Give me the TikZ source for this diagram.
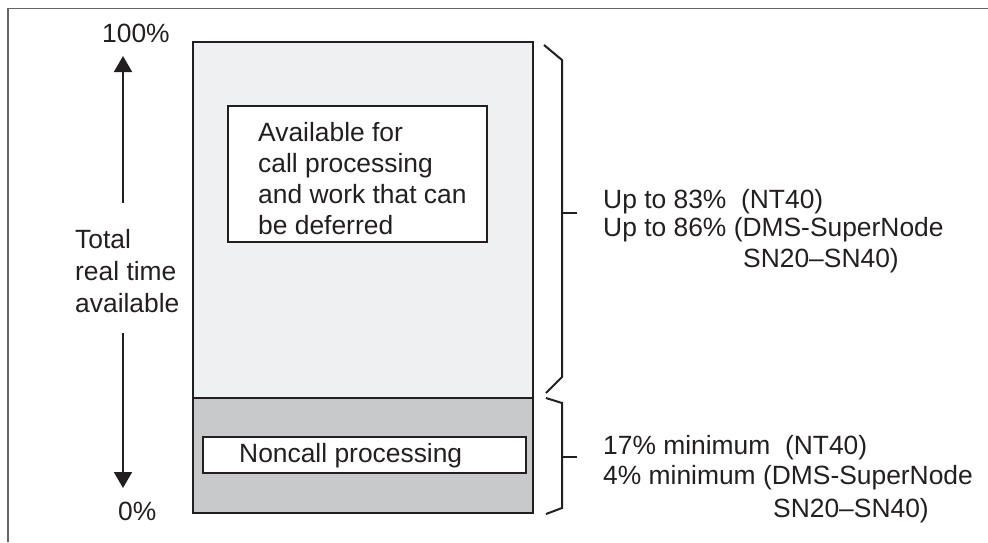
\documentclass[tikz,border=0pt]{standalone}
\usepackage{fontspec}
\setmainfont{Liberation Sans}
\usetikzlibrary{arrows.meta}
\definecolor{upperfill}{HTML}{EFF0F2}
\definecolor{lowerfill}{HTML}{C8C9CB}
\definecolor{ink}{HTML}{231F20}
\begin{document}
\begin{tikzpicture}[x=1pt,y=-1pt,
  lbl/.style={anchor=base west,inner sep=0pt,font=\fontsize{26.4}{31}\selectfont,text=ink},
  boxline/.style={draw=ink,line width=2pt,anchor=north west,inner sep=0pt,outer sep=0pt},
  bracket/.style={draw=ink,line width=2pt},
  arr/.style={draw=ink,line width=2pt,-{Triangle[width=18pt,length=16pt]}}]
\useasboundingbox (0,0) rectangle (988,542);
% frame
\draw[gray!80!black,line width=1.5pt] (8,542) -- (8,8.5) -- (988,8.5);
% main column
\node[boxline,fill=upperfill,minimum width=340pt,minimum height=356pt] (upper) at (193,42) {};
\node[boxline,fill=lowerfill,minimum width=340pt,minimum height=115pt] (lower) at (193,398) {};
\node[boxline,fill=white,minimum width=259pt,minimum height=136pt] (availbox) at (228,106) {};
\node[boxline,fill=white,minimum width=323pt,minimum height=36pt] (noncallbox) at (203,437) {};
% texts inside boxes
\node[lbl] (av1) at (258,141) {Available for};
\node[lbl] (av2) at (258,172) {call processing};
\node[lbl] (av3) at (258,203) {and work that can};
\node[lbl] (av4) at (258,234) {be deferred};
\node[lbl] (nc) at (239,462) {Noncall processing};
% left scale
\node[lbl] (p100) at (102,42) {100\%};
\node[lbl] (p0) at (118,520) {0\%};
\node[lbl] (t1) at (75,248) {Total};
\node[lbl] (t2) at (75,280) {real time};
\node[lbl] (t3) at (75,312) {available};
\coordinate (uptail) at (123,203);
\coordinate (uptip) at (123,56);
\coordinate (dntail) at (123,333);
\coordinate (dntip) at (123,488);
\draw[arr] (uptail) -- (uptip);
\draw[arr] (dntail) -- (dntip);
% brackets
\coordinate (ba1) at (544,45);
\coordinate (ba2) at (562,60);
\coordinate (ba3) at (562,377);
\coordinate (ba4) at (546,393);
\coordinate (bam) at (562,213);
\coordinate (bat) at (577,213);
\draw[bracket] (ba1) -- (ba2) -- (ba3) -- (ba4);
\draw[bracket] (bam) -- (bat);
\coordinate (bb1) at (546,398);
\coordinate (bb2) at (562,403);
\coordinate (bb3) at (562,508);
\coordinate (bb4) at (546,514);
\coordinate (bbm) at (562,457);
\coordinate (bbt) at (577,457);
\draw[bracket] (bb1) -- (bb2) -- (bb3) -- (bb4);
\draw[bracket] (bbm) -- (bbt);
% right labels
\node[lbl] (r1) at (603,208) {Up to 83\%\ \ (NT40)};
\node[lbl] (r2) at (603,236) {Up to 86\% (DMS-SuperNode};
\node[lbl] (r3) at (743,267) {SN20\textendash SN40)};
\node[lbl] (s1) at (603,454) {17\% minimum\ \ (NT40)};
\node[lbl] (s2) at (603,484) {4\% minimum (DMS-SuperNode};
\node[lbl] (s3) at (773,517) {SN20\textendash SN40)};
\end{tikzpicture}
\end{document}
